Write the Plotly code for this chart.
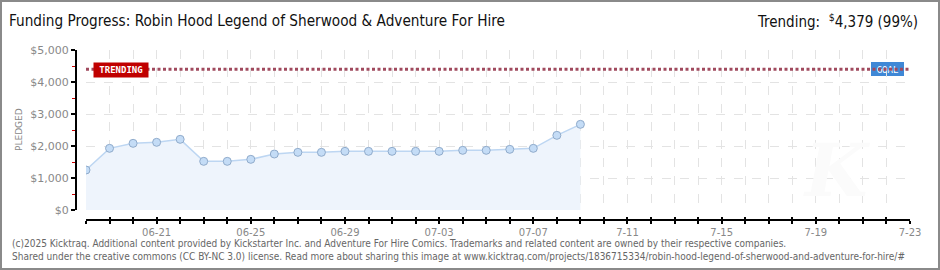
import plotly.graph_objects as go
import pandas as pd

W, H = 940, 270

# ---- data ----
dates = ["2025-06-18", "2025-06-19", "2025-06-20", "2025-06-21", "2025-06-22",
         "2025-06-23", "2025-06-24", "2025-06-25", "2025-06-26", "2025-06-27",
         "2025-06-28", "2025-06-29", "2025-06-30", "2025-07-01", "2025-07-02",
         "2025-07-03", "2025-07-04", "2025-07-05", "2025-07-06", "2025-07-07",
         "2025-07-08", "2025-07-09"]
pledged = [1250, 1927, 2083, 2115, 2208, 1521, 1521, 1583, 1750, 1802,
           1802, 1833, 1833, 1833, 1833, 1833, 1865, 1865, 1896, 1927,
           2333, 2677]
goal = 4400
trending = 4379
trending_pct = 99

axis_start = "2025-06-18"
axis_end = "2025-07-23"
label_dates = ["2025-06-21", "2025-06-25", "2025-06-29", "2025-07-03",
               "2025-07-07", "2025-07-11", "2025-07-15", "2025-07-19", "2025-07-23"]
label_text = ["06-21", "06-25", "06-29", "07-03", "07-07", "7-11", "7-15", "7-19", "7-23"]
y_ticks = [0, 1000, 2000, 3000, 4000, 5000]
y_labels = ["$0", "$1,000", "$2,000", "$3,000", "$4,000", "$5,000"]

# ---- geometry helpers (pixels -> paper) ----
def px(x):
    return x / W

def py(y):
    return 1 - y / H

all_days = [d.strftime("%Y-%m-%d") for d in pd.date_range(axis_start, axis_end, freq="D")]
DAY_MS = 86400000

fig = go.Figure()

fig.add_trace(go.Scatter(
    x=dates, y=pledged, mode="lines+markers",
    fill="tozeroy", fillcolor="#eef4fc",
    line=dict(color="#bdd6f2", width=1.5),
    marker=dict(size=8, color="#c4dcf6", line=dict(color="#90abcb", width=1)),
    hoverinfo="skip", showlegend=False, xaxis="x", yaxis="y"))

fig.add_trace(go.Scatter(
    x=[axis_start, axis_end], y=[goal, goal], mode="lines",
    line=dict(color="#a04a5e", width=3, dash="3px,2.5px"),
    hoverinfo="skip", showlegend=False, xaxis="x", yaxis="y"))

# invisible trace for the inside ticks axis
fig.add_trace(go.Scatter(x=[axis_start, axis_end], y=[None, None], mode="lines",
                         showlegend=False, hoverinfo="skip", xaxis="x2", yaxis="y"))

x_dom = [px(86), px(910)]
y_dom = [py(210), py(50)]
xpos = py(220)

fig.update_layout(
    width=W, height=H,
    margin=dict(l=0, r=0, t=0, b=0, pad=0, autoexpand=False),
    paper_bgcolor="white", plot_bgcolor="white",
    xaxis=dict(domain=x_dom, anchor="free", position=xpos, automargin=False,
               range=[axis_start, axis_end], type="date",
               tickmode="array", tickvals=label_dates, ticktext=label_text,
               ticks="outside", ticklen=3, tickwidth=1.5, tickcolor="black",
               showline=True, linecolor="black", linewidth=2,
               showgrid=True, gridcolor="#e3e3e3", griddash="dash", gridwidth=1,
               minor=dict(tickmode="linear", tick0=axis_start, dtick=DAY_MS,
                          ticks="outside", ticklen=3, tickwidth=1.5, tickcolor="black",
                          showgrid=True, gridcolor="#e3e3e3", griddash="dash", gridwidth=1),
               tickfont=dict(family="DejaVu Sans", size=10, color="#888888"),
               zeroline=False),
    xaxis2=dict(domain=x_dom, anchor="free", position=xpos, overlaying="x",
                automargin=False,
                range=[axis_start, axis_end], type="date",
                tickmode="array", tickvals=all_days, showticklabels=False,
                ticks="inside", ticklen=3, tickwidth=1.5, tickcolor="black",
                showline=False, showgrid=False, zeroline=False),
    yaxis=dict(domain=y_dom, anchor="free", position=px(76), automargin=False,
               range=[0, 5000], tickmode="array", tickvals=y_ticks, ticktext=y_labels,
               ticks="outside", ticklen=4, tickwidth=1.5, tickcolor="black",
               showline=True, linecolor="black", linewidth=2,
               showgrid=True, gridcolor="#e3e3e3", griddash="dash", gridwidth=1,
               zeroline=False,
               minor=dict(tickmode="linear", tick0=500, dtick=1000, ticks="outside",
                          ticklen=3, tickwidth=1, tickcolor="#cc0000", showgrid=False),
               tickfont=dict(family="DejaVu Sans", size=11, color="#888888")),
)

title_font = "DejaVu Sans Condensed, sans-serif"
fig.add_annotation(xref="paper", yref="paper", x=px(7), y=py(21), xanchor="left",
                   yanchor="middle", showarrow=False,
                   text="Funding Progress: Robin Hood Legend of Sherwood &amp; Adventure For Hire",
                   font=dict(family=title_font, size=15.2, color="#111111"))
fig.add_annotation(xref="paper", yref="paper", x=px(920), y=py(21), xanchor="right",
                   yanchor="middle", showarrow=False,
                   text=f"Trending:  <sup>$</sup>{trending:,} ({trending_pct}%)",
                   font=dict(family=title_font, size=15, color="#111111"))

fig.add_annotation(xref="paper", yref="paper", x=px(19), y=py(130), textangle=-90,
                   xanchor="center", yanchor="middle",
                   showarrow=False, text="PLEDGED",
                   font=dict(family="DejaVu Sans", size=9, color="#888888"))

# trending label
fig.add_annotation(xref="paper", yref="y", x=px(121), y=trending, showarrow=False,
                   xanchor="center", yanchor="middle",
                   text="<b>TRENDING</b>", bgcolor="#c00000", width=52, height=12,
                   borderpad=1,
                   font=dict(family="DejaVu Sans Mono", size=9, color="white"))

# goal label box (below goal line)
fig.add_shape(type="rect", xref="paper", yref="paper",
              x0=px(871), x1=px(904), y0=py(76), y1=py(62),
              fillcolor="#3f88d6", line=dict(width=0), layer="between",
              label=dict(text="GOAL", font=dict(family="DejaVu Sans Mono", size=9, color="white")))

# faint watermark
fig.add_annotation(xref="paper", yref="paper", x=px(872), y=py(170), showarrow=False,
                   text="<i><b>K</b></i>",
                   font=dict(family="DejaVu Serif", size=72, color="#fbfbfb"))

footer_font = "DejaVu Sans Condensed, DejaVu Sans"
fig.add_annotation(xref="paper", yref="paper", x=px(10), y=py(243), xanchor="left",
                   yanchor="middle", showarrow=False,
                   text="(c)2025 Kicktraq. Additional content provided by Kickstarter Inc. and Adventure For Hire Comics. Trademarks and related content are owned by their respective companies.",
                   font=dict(family=footer_font, size=10, color="#666666"))
fig.add_annotation(xref="paper", yref="paper", x=px(10), y=py(256), xanchor="left",
                   yanchor="middle", showarrow=False,
                   text="Shared under the creative commons (CC BY-NC 3.0) license. Read more about sharing this image at www.kicktraq.com/projects/1836715334/robin-hood-legend-of-sherwood-and-adventure-for-hire/#",
                   font=dict(family=footer_font, size=10, color="#666666"))

# outer frame
fig.add_shape(type="rect", xref="paper", yref="paper", x0=px(1), x1=px(939),
              y0=py(269), y1=py(1), line=dict(color="#8a8a8a", width=2),
              fillcolor="rgba(0,0,0,0)", layer="above")

fig.write_html("out.html")
